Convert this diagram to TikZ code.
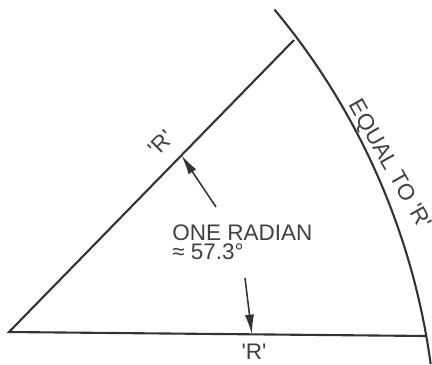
\documentclass[tikz,border=0pt]{standalone}
\usepackage{fontspec}
\newfontfamily\labelfont{Liberation Sans}
\usetikzlibrary{arrows.meta,calc}

\begin{document}
\begin{tikzpicture}[x=0.025cm, y=0.025cm, font=\labelfont\fontsize{16}{13.5}\selectfont,
  edge/.style={draw=black!80, line width=1.5pt},
  ptr/.style={draw=black!80, line width=1.1pt, -{Latex[length=14pt, width=6.5pt]}},
  lbl/.style={text=black!75, inner sep=0pt}]
\useasboundingbox (0,0) rectangle (432,364);
\coordinate (O) at (9,32);
\coordinate (A) at (294,324);
\coordinate (B) at (427,28);
\coordinate (ctr) at (-263,-94);
\draw[edge] (A) -- (O) -- (B);
\draw[edge] (ctr) ++(39.84:700) arc[start angle=39.84, end angle=7.72, radius=17.5cm];
\node[lbl, anchor=north west, align=left] (rad) at (172,139) {ONE RADIAN\\≈ 57.3°};
\node[lbl] (rb) at (254,12) {'R'};
\node[lbl, rotate=45] (ra) at (161,221) {'R'};
\node[lbl, rotate=-60.5] (eq) at (389,199) {EQUAL TO 'R'};
\coordinate (tailA) at (216,157);
\coordinate (tipA) at ($(O)!0.605!(A)$);
\coordinate (tailB) at (245,86);
\coordinate (tipB) at ($(O)!0.581!(B)$);
\draw[ptr] (tailA) -- (tipA);
\draw[ptr] (tailB) -- (tipB);
\end{tikzpicture}
\end{document}
